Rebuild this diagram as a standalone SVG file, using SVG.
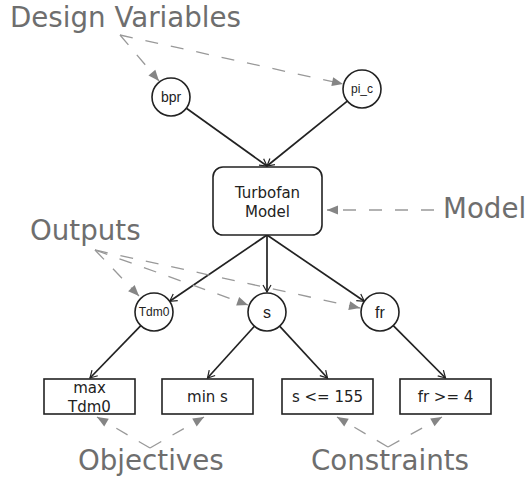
<svg xmlns="http://www.w3.org/2000/svg" width="529" height="479" viewBox="0 0 529 479">
<defs>
<style>
.lbl{font-family:"DejaVu Sans",sans-serif;font-size:27.7px;fill:#6e6e6e}
.node circle{fill:#fff;stroke:#222;stroke-width:1.6}
.node rect{fill:#fff;stroke:#222;stroke-width:1.6}
.ctxt{font-family:"Liberation Sans",Arial,sans-serif;font-size:12px;fill:#222;text-anchor:middle}
.big{font-size:16px}
.mid{font-size:14px}
.btxt{font-family:"DejaVu Sans",sans-serif;font-size:15px;fill:#222;text-anchor:middle}
.edge{stroke:#222;stroke-width:1.7;fill:none;marker-end:url(#open)}
.note{stroke:#999;stroke-width:1.3;fill:none;stroke-dasharray:13 13;marker-end:url(#fill)}
</style>
<marker id="open" markerUnits="userSpaceOnUse" markerWidth="10" markerHeight="10" refX="7" refY="4" orient="auto" overflow="visible">
<path d="M0,0 L7,4 L0,8" fill="none" stroke="#222" stroke-width="1.2"/>
</marker>
<marker id="fill" markerUnits="userSpaceOnUse" markerWidth="12" markerHeight="10" refX="11" refY="4.5" orient="auto" overflow="visible">
<path d="M0,0 L11,4.5 L0,9 z" fill="#858585" stroke="none"/>
</marker>
</defs>
<rect width="529" height="479" fill="#fff"/>

<g id="connectors">
<line class="edge" x1="186.4" y1="108.2" x2="267" y2="166"/>
<line class="edge" x1="347.3" y1="101.1" x2="267" y2="166"/>
<line class="edge" x1="267" y1="235" x2="169.7" y2="301.3"/>
<line class="edge" x1="267" y1="235" x2="267" y2="292"/>
<line class="edge" x1="267" y1="235" x2="364.3" y2="301.3"/>
<line class="edge" x1="140.8" y1="325.7" x2="90" y2="378"/>
<line class="edge" x1="254.4" y1="326.2" x2="207.5" y2="378"/>
<line class="edge" x1="279.6" y1="326.2" x2="327.5" y2="378"/>
<line class="edge" x1="393.3" y1="325.6" x2="445.5" y2="378"/>

<line class="note" x1="120" y1="35" x2="159" y2="81"/>
<line class="note" x1="120" y1="35" x2="343" y2="84"/>
<line class="note" x1="434" y1="210" x2="327" y2="210"/>
<line class="note" x1="95" y1="250" x2="139" y2="296"/>
<line class="note" x1="95" y1="250" x2="248" y2="305"/>
<line class="note" x1="95" y1="250" x2="360" y2="308"/>
<line class="note" x1="150" y1="448" x2="97" y2="417"/>
<line class="note" x1="150" y1="448" x2="204" y2="417"/>
<line class="note" x1="388" y1="447" x2="337" y2="417"/>
<line class="note" x1="388" y1="447" x2="442" y2="417"/>
</g>

<g id="label-design-variables"><text class="lbl" x="10" y="27">Design Variables</text></g>
<g id="label-model"><text class="lbl" x="443" y="218">Model</text></g>
<g id="label-outputs"><text class="lbl" x="30" y="240">Outputs</text></g>
<g id="label-objectives"><text class="lbl" x="78" y="470">Objectives</text></g>
<g id="label-constraints"><text class="lbl" x="311" y="470">Constraints</text></g>

<g id="node-bpr" class="node"><circle cx="171" cy="97" r="19"/><text class="ctxt mid" x="171" y="102">bpr</text></g>
<g id="node-pi_c" class="node"><circle cx="362" cy="89" r="19"/><text class="ctxt" x="362" y="93">pi_c</text></g>
<g id="node-turbofan" class="node"><rect x="213" y="167" width="109" height="68" rx="10"/><text class="btxt" x="267.5" y="198">Turbofan</text><text class="btxt" x="267.5" y="217">Model</text></g>
<g id="node-Tdm0" class="node"><circle cx="154" cy="312" r="19"/><text class="ctxt" x="154" y="316">Tdm0</text></g>
<g id="node-s" class="node"><circle cx="267" cy="312" r="19"/><text class="ctxt big" x="267" y="317.5">s</text></g>
<g id="node-fr" class="node"><circle cx="380" cy="312" r="19"/><text class="ctxt big" x="380" y="317.5">fr</text></g>
<g id="node-max" class="node"><rect x="44" y="379" width="91" height="35"/><text class="btxt" x="89.5" y="393">max</text><text class="btxt" x="89.5" y="412">Tdm0</text></g>
<g id="node-min" class="node"><rect x="162" y="379" width="91" height="35"/><text class="btxt" x="207.5" y="402">min s</text></g>
<g id="node-s155" class="node"><rect x="282" y="379" width="91" height="35"/><text class="btxt" x="327.5" y="402">s &lt;= 155</text></g>
<g id="node-fr4" class="node"><rect x="400" y="379" width="91" height="35"/><text class="btxt" x="445.5" y="402">fr &gt;= 4</text></g>
</svg>
